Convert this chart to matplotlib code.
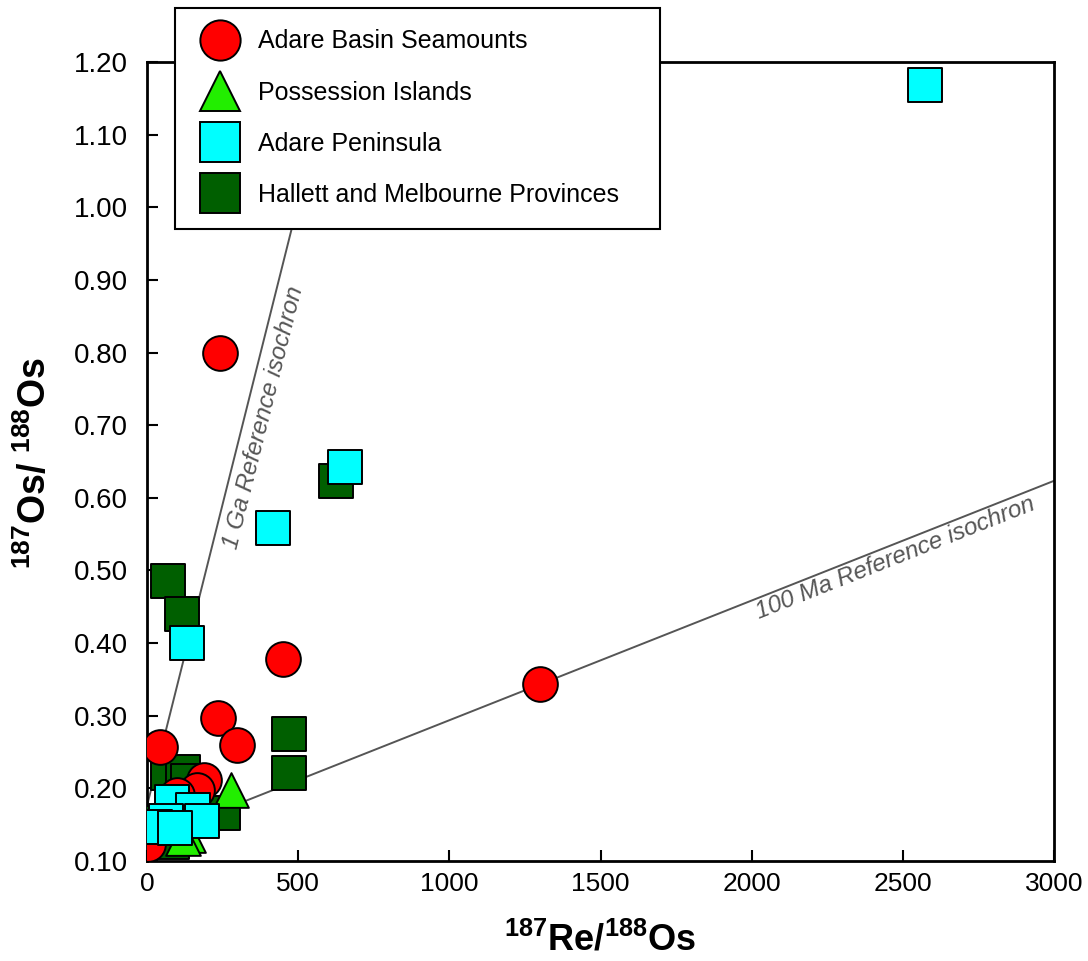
import numpy as np
import matplotlib
matplotlib.use("Agg")
import matplotlib.pyplot as plt
from matplotlib.lines import Line2D

plt.rcParams["font.family"] = ["Liberation Sans", "DejaVu Sans"]
plt.rcParams["mathtext.fontset"] = "custom"
plt.rcParams["mathtext.rm"] = "Liberation Sans"
plt.rcParams["mathtext.bf"] = "Liberation Sans:bold"

# 187Re/188Os and 187Os/188Os for each sample group
seamounts_re = [243, 450, 1300, 235, 297, 43, 190, 164, 98, 0, 4]
seamounts_os = [0.800, 0.378, 0.344, 0.297, 0.260, 0.257, 0.212, 0.198, 0.191, 0.129, 0.124]

possession_re = [277, 137, 118]
possession_os = [0.198, 0.136, 0.131]

peninsula_re = [2574, 655, 416, 132, 82, 153, 181, 62, 26, 93]
peninsula_os = [1.168, 0.643, 0.558, 0.400, 0.181, 0.170, 0.155, 0.155, 0.147, 0.145]

hallett_re = [624, 69, 116, 470, 470, 71, 120, 135, 252, 10, 71, 32, 82]
hallett_os = [0.623, 0.485, 0.440, 0.275, 0.221, 0.221, 0.223, 0.210, 0.166, 0.152, 0.129, 0.127, 0.126]

# reference isochrons: (initial ratio, slope)
iso_1ga = (0.176, 0.00166)
iso_100ma = (0.129, 0.0001648)

x_ticks = [0, 500, 1000, 1500, 2000, 2500, 3000]
y_ticks = [0.10, 0.20, 0.30, 0.40, 0.50, 0.60, 0.70, 0.80, 0.90, 1.00, 1.10, 1.20]

W, H = 1088, 961
fig = plt.figure(figsize=(W / 100, H / 100), dpi=100)
ax_l, ax_r, ax_t, ax_b = 147, 1054, 62, 861
ax = fig.add_axes([ax_l / W, 1 - ax_b / H, (ax_r - ax_l) / W, (ax_b - ax_t) / H])
ax.set_xlim(0, 3000)
ax.set_ylim(0.10, 1.20)

# isochron lines
xs = np.array([0, 3000])
line_kw = dict(color="#555555", lw=1.4, zorder=1)
ax.plot(xs, iso_1ga[0] + iso_1ga[1] * xs, **line_kw)
ax.plot(xs, iso_100ma[0] + iso_100ma[1] * xs, **line_kw)

# on-screen angle of each line
px_per_x = (ax_r - ax_l) / 3000
px_per_y = (ax_b - ax_t) / 1.10
ang_1ga = np.degrees(np.arctan(iso_1ga[1] * px_per_y / px_per_x))
ang_100 = np.degrees(np.arctan(iso_100ma[1] * px_per_y / px_per_x))

lab_kw = dict(color="#555555", fontsize=17.5, style="italic", ha="center", va="center",
              rotation_mode="anchor", zorder=2)
ax.text(387, 0.710, "1 Ga Reference isochron", rotation=ang_1ga, **lab_kw)
ax.text(2474, 0.517, "100 Ma Reference isochron", rotation=ang_100, **lab_kw)

ms = 25
edge = dict(edgecolors="black", linewidths=1.4)
ax.scatter(hallett_re, hallett_os, s=ms**2, marker="s", c="#005F00", zorder=3, **edge)
ax.scatter(possession_re, possession_os, s=ms**2, marker="^", c="#22EE00", zorder=4, **edge)
ax.scatter(seamounts_re, seamounts_os, s=ms**2, marker="o", c="#FF0000", zorder=5, **edge)
ax.scatter(peninsula_re, peninsula_os, s=ms**2, marker="s", c="#00FFFF", zorder=6, **edge)

ax.set_xticks(x_ticks)
ax.set_xticklabels([str(v) for v in x_ticks])
ax.set_yticks(y_ticks)
ax.set_yticklabels([f"{v:.2f}" for v in y_ticks])
ax.tick_params(axis="x", direction="in", length=8, width=1.5, labelsize=19, pad=8)
ax.tick_params(axis="y", direction="in", length=8, width=1.5, labelsize=20, pad=14)
for sp in ax.spines.values():
    sp.set_linewidth(2)

fig.text(600 / W, 1 - 940 / H, r"$\mathbf{^{187}}$Re/$\mathbf{^{188}}$Os",
         fontsize=26, fontweight="bold", ha="center", va="center")
fig.text(35 / W, 1 - 463 / H, r"$\mathbf{^{187}}$Os/ $\mathbf{^{188}}$Os",
         fontsize=27, fontweight="bold", ha="center", va="center", rotation=90)

handles = [
    Line2D([], [], ls="none", marker="o", ms=29, mfc="#FF0000", mec="black", mew=1.4),
    Line2D([], [], ls="none", marker="^", ms=29, mfc="#22EE00", mec="black", mew=1.4),
    Line2D([], [], ls="none", marker="s", ms=29, mfc="#00FFFF", mec="black", mew=1.4),
    Line2D([], [], ls="none", marker="s", ms=29, mfc="#005F00", mec="black", mew=1.4),
]
labels = ["Adare Basin Seamounts", "Possession Islands", "Adare Peninsula",
          "Hallett and Melbourne Provinces"]
leg = fig.legend(handles, labels, loc="upper left",
                 bbox_to_anchor=(175 / W, 1 - 225 / H, 485 / W, 217 / H),
                 bbox_transform=fig.transFigure, mode="expand",
                 borderaxespad=0, fontsize=18, frameon=True, fancybox=False,
                 framealpha=1, edgecolor="black", borderpad=0.86,
                 handlelength=1.88, handletextpad=0.58, labelspacing=1.09)
leg.get_frame().set_linewidth(1.5)

fig.savefig("out.png", dpi=100)
